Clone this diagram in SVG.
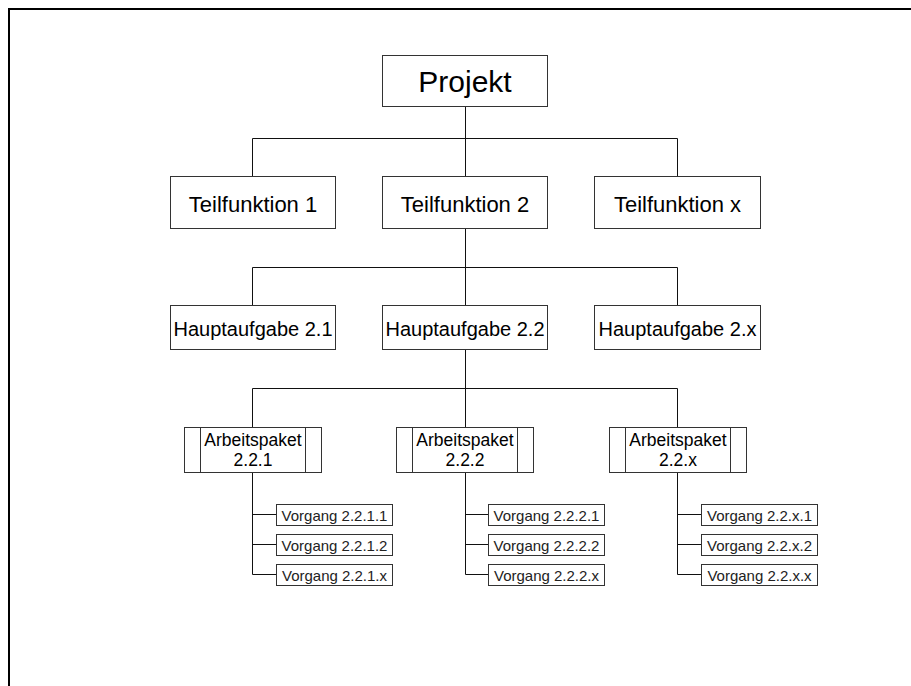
<svg xmlns="http://www.w3.org/2000/svg" width="911" height="686" viewBox="0 0 911 686">
<style>
.box{fill:#fff;stroke:#333;stroke-width:1}
.ln{fill:none;stroke:#111;stroke-width:1}
text{font-family:"Liberation Sans",Arial,sans-serif;fill:#000;text-anchor:middle}
.t30{font-size:30px}
.t22{font-size:22px}
.t20{font-size:20px}
.t17{font-size:17.5px}
.t15{font-size:15px;fill:#222}
</style>
<rect width="911" height="686" fill="#fff"/>
<rect x="9" y="9" width="1000" height="1000" fill="none" stroke="#000" stroke-width="2"/>
<g id="connectors" class="ln">
<path d="M465.5 107V176.5M252.5 176.5V138.5H677.5V176.5"/>
<path d="M465.5 229V305.5M252.5 305.5V267.5H677.5V305.5"/>
<path d="M465.5 350V427.5M252.5 427.5V388.5H677.5V427.5"/>
<path d="M252.5 472.5V574.5H276.5M252.5 514.5H276.5M252.5 544.5H276.5"/>
<path d="M465.5 472.5V574.5H488.5M465.5 514.5H488.5M465.5 544.5H488.5"/>
<path d="M677.5 472.5V574.5H701.5M677.5 514.5H701.5M677.5 544.5H701.5"/>
</g>
<g id="projekt"><rect class="box" x="382.5" y="55.5" width="165" height="51"/><text class="t30" x="465" y="92">Projekt</text></g>
<g id="tf1"><rect class="box" x="170.5" y="176.5" width="165" height="52"/><text class="t22" x="253" y="212">Teilfunktion 1</text></g>
<g id="tf2"><rect class="box" x="382.5" y="176.5" width="165" height="52"/><text class="t22" x="465" y="212">Teilfunktion 2</text></g>
<g id="tfx"><rect class="box" x="594.5" y="176.5" width="166" height="52"/><text class="t22" x="677.5" y="212">Teilfunktion x</text></g>
<g id="ha21"><rect class="box" x="170.5" y="305.5" width="165" height="44"/><text class="t20" x="253" y="335.5">Hauptaufgabe 2.1</text></g>
<g id="ha22"><rect class="box" x="382.5" y="305.5" width="165" height="44"/><text class="t20" x="465" y="335.5">Hauptaufgabe 2.2</text></g>
<g id="ha2x"><rect class="box" x="594.5" y="305.5" width="166" height="44"/><text class="t20" x="677.5" y="335.5">Hauptaufgabe 2.x</text></g>
<g id="ap221"><rect class="box" x="184.5" y="427.5" width="137" height="45"/><path class="box" d="M200.5 427.5V472.5M305.5 427.5V472.5"/><text class="t17" x="253" y="445.7">Arbeitspaket</text><text class="t17" x="253" y="465.7">2.2.1</text></g>
<g id="ap222"><rect class="box" x="396.5" y="427.5" width="137" height="45"/><path class="box" d="M412.5 427.5V472.5M517.5 427.5V472.5"/><text class="t17" x="465" y="445.7">Arbeitspaket</text><text class="t17" x="465" y="465.7">2.2.2</text></g>
<g id="ap22x"><rect class="box" x="609.5" y="427.5" width="137" height="45"/><path class="box" d="M625.5 427.5V472.5M730.5 427.5V472.5"/><text class="t17" x="678" y="445.7">Arbeitspaket</text><text class="t17" x="678" y="465.7">2.2.x</text></g>
<g id="v2211"><rect class="box" x="276.5" y="504.5" width="116" height="21"/><text class="t15" x="334.5" y="520.5">Vorgang 2.2.1.1</text></g>
<g id="v2212"><rect class="box" x="276.5" y="534.5" width="116" height="21"/><text class="t15" x="334.5" y="550.5">Vorgang 2.2.1.2</text></g>
<g id="v221x"><rect class="box" x="276.5" y="564.5" width="116" height="21"/><text class="t15" x="334.5" y="580.5">Vorgang 2.2.1.x</text></g>
<g id="v2221"><rect class="box" x="488.5" y="504.5" width="116" height="21"/><text class="t15" x="546.5" y="520.5">Vorgang 2.2.2.1</text></g>
<g id="v2222"><rect class="box" x="488.5" y="534.5" width="116" height="21"/><text class="t15" x="546.5" y="550.5">Vorgang 2.2.2.2</text></g>
<g id="v222x"><rect class="box" x="488.5" y="564.5" width="116" height="21"/><text class="t15" x="546.5" y="580.5">Vorgang 2.2.2.x</text></g>
<g id="v22x1"><rect class="box" x="701.5" y="504.5" width="116" height="21"/><text class="t15" x="759.5" y="520.5">Vorgang 2.2.x.1</text></g>
<g id="v22x2"><rect class="box" x="701.5" y="534.5" width="116" height="21"/><text class="t15" x="759.5" y="550.5">Vorgang 2.2.x.2</text></g>
<g id="v22xx"><rect class="box" x="701.5" y="564.5" width="116" height="21"/><text class="t15" x="759.5" y="580.5">Vorgang 2.2.x.x</text></g>
</svg>
